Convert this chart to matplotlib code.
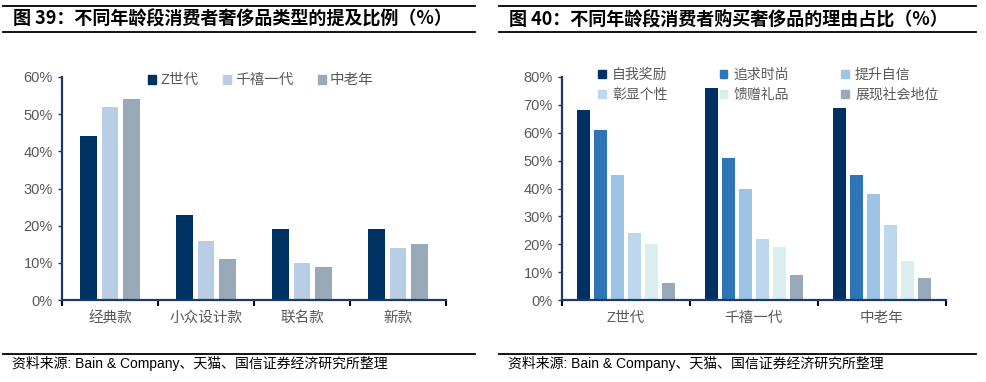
import numpy as np
import matplotlib.pyplot as plt
from matplotlib.lines import Line2D
from matplotlib.patches import Patch

plt.rcParams['font.family'] = ['Liberation Sans', 'Noto Sans CJK SC', 'DejaVu Sans']

# left chart data
types = ['经典款', '小众设计款', '联名款', '新款']
gens = ['Z世代', '千禧一代', '中老年']
gen_z = [44, 23, 19, 19]
millennial = [52, 16, 10, 14]
older = [54, 11, 9, 15]

# right chart data
groups = ['Z世代', '千禧一代', '中老年']
reasons = ['自我奖励', '追求时尚', '提升自信', '彰显个性', '馈赠礼品', '展现社会地位']
self_reward = [68, 76, 69]
fashion = [61, 51, 45]
confidence = [45, 40, 38]
personality = [24, 22, 27]
gift = [20, 19, 14]
status = [6, 9, 8]

left_colors = ['#003163', '#B9CDE5', '#98A9BA']
right_colors = ['#003163', '#2E75B6', '#9DC3E6', '#BDD7EE', '#DAEEF0', '#98A9BA']

W, H = 987, 382
fig = plt.figure(figsize=(W / 100, H / 100), dpi=100)
gray = '#595959'
navy = '#1F3864'


def px_axes(x0, y0, x1, y1):
    return fig.add_axes([x0 / W, 1 - y1 / H, (x1 - x0) / W, (y1 - y0) / H])


def style(ax, ncat, ymax, step):
    ax.set_xlim(0, ncat)
    ax.set_ylim(0, ymax)
    ax.set_yticks(np.arange(0, ymax + 1, step))
    ax.set_yticklabels(['%d%%' % v for v in np.arange(0, ymax + 1, step)])
    ax.set_xticks(np.arange(0, ncat + 1))
    ax.set_xticklabels([])
    for s in ['top', 'right']:
        ax.spines[s].set_visible(False)
    for s in ['left', 'bottom']:
        ax.spines[s].set_color(navy)
        ax.spines[s].set_linewidth(1.6)
    ax.tick_params(axis='y', colors=navy, labelcolor=gray, labelsize=10.5, length=3, width=1)
    ax.tick_params(axis='x', which='major', colors='black', length=4, width=1.5)
    ax.set_xticks(np.arange(ncat) + 0.5, minor=True)
    ax.tick_params(axis='x', which='minor', length=0, labelcolor=gray, labelsize=10.5, pad=8)


# ---- left chart
ax1 = px_axes(62, 77, 446, 300)
series1 = [gen_z, millennial, older]
x = np.arange(len(types)) + 0.5
w1 = 0.175
for i, vals in enumerate(series1):
    ax1.bar(x + (i - 1) * 0.225, vals, w1, color=left_colors[i], label=gens[i])
style(ax1, len(types), 60, 10)
ax1.set_xticklabels(types, minor=True, family=['Noto Sans CJK SC'])
h1 = [Patch(color=c) for c in left_colors]
leg1 = ax1.legend(h1, gens, ncol=3, frameon=False, loc='center left',
                  bbox_to_anchor=(0.21, 0.985), handlelength=0.55, handleheight=0.55,
                  handletextpad=0.25, columnspacing=1.7, borderaxespad=0,
                  prop={'family': ['Liberation Sans', 'Noto Sans CJK SC'], 'size': 10.5})
for t in leg1.get_texts():
    t.set_color(gray)

# ---- right chart
ax2 = px_axes(562, 77, 946, 300)
series2 = [self_reward, fashion, confidence, personality, gift, status]
x2 = np.arange(len(groups)) + 0.5
w2 = 0.102
for i, vals in enumerate(series2):
    ax2.bar(x2 + (i - 2.5) * 0.133, vals, w2, color=right_colors[i], label=reasons[i])
style(ax2, len(groups), 80, 10)
ax2.set_xticklabels(groups, minor=True, family=['Liberation Sans', 'Noto Sans CJK SC'])
order = [0, 3, 1, 4, 2, 5]
h2 = [Patch(color=right_colors[k]) for k in order]
l2 = [reasons[k] for k in order]
leg2 = ax2.legend(h2, l2, ncol=3, frameon=False, loc='upper left',
                  bbox_to_anchor=(0.08, 1.065), handlelength=0.55, handleheight=0.55,
                  handletextpad=0.45, columnspacing=3.75, labelspacing=0.4, borderaxespad=0,
                  prop={'family': ['Noto Sans CJK SC'], 'size': 10})
for t in leg2.get_texts():
    t.set_color(gray)

# ---- titles, rules and sources
titles = ['图 39：不同年龄段消费者奢侈品类型的提及比例（%）',
          '图 40：不同年龄段消费者购买奢侈品的理由占比（%）']
spans = [(3, 475), (499, 976)]
for (a, b), title in zip(spans, titles):
    for yy in (6, 32, 354):
        fig.add_artist(Line2D([a / W, b / W], [1 - yy / H, 1 - yy / H], color='black', lw=1.3))
    fig.text((a + 10) / W, 1 - 19.5 / H, title, fontsize=13, fontweight='bold',
             va='center', ha='left', family=['Noto Sans CJK SC'])
    fig.text((a + 9) / W, 1 - 363 / H, '资料来源: Bain & Company、天猫、国信证券经济研究所整理',
             fontsize=10, va='center', ha='left',
             family=['Liberation Sans', 'Noto Sans CJK SC'])

fig.savefig('out.png', dpi=100)
